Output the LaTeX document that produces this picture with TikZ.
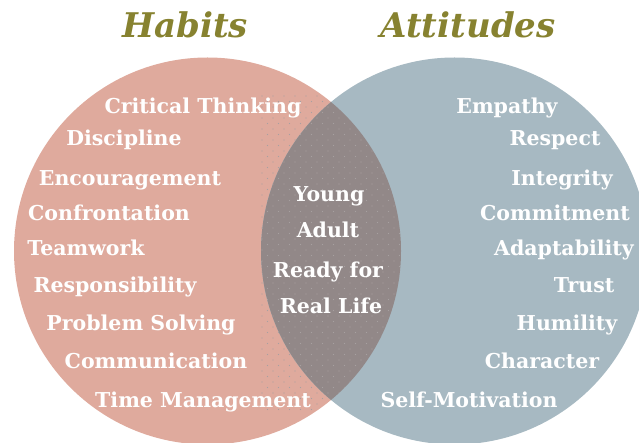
\documentclass[tikz,border=0pt]{standalone}
\usepackage{fontspec}
\setmainfont{DejaVu Serif}
\definecolor{habitpink}{HTML}{DFAA9D}
\definecolor{attitudeblue}{HTML}{A7B9C2}
\definecolor{overlapgray}{HTML}{928888}
\definecolor{dotgray}{HTML}{A8A0A0}
\definecolor{titleolive}{HTML}{878230}

\begin{document}
\begin{tikzpicture}[x=1pt, y=-1pt,
  word/.style={text=white, inner sep=0pt, anchor=base,
    font=\bfseries\fontsize{20.5}{21}\selectfont},
  heading/.style={text=titleolive, inner sep=0pt, anchor=base,
    font=\bfseries\itshape\fontsize{34}{34}\selectfont}]
\clip (0,0) rectangle (639,443);
\coordinate (HC) at (207.5,251);
\coordinate (AC) at (454.5,251);
% circles
\fill[habitpink] (HC) circle (193.5pt);
\fill[attitudeblue] (AC) circle (193.5pt);
\begin{scope}
\clip (HC) circle (193.5pt);
\fill[overlapgray] (AC) circle (193.5pt);
\foreach \i in {0,...,13}
  \foreach \j in {0,...,28} {
    \fill[dotgray] (262+\i*11, 96+\j*11) circle (0.7pt);
    \fill[dotgray] (267.5+\i*11, 101.5+\j*11) circle (0.7pt);
  }
\end{scope}
% titles
\node[heading] (habits) at (185,38) {Habits};
\node[heading] (attitudes) at (468,38) {Attitudes};
% habits
\node[word] (critical) at (203,114) {Critical Thinking};
\node[word] (discipline) at (124,146) {Discipline};
\node[word] (encouragement) at (130,186) {Encouragement};
\node[word] (confrontation) at (109,221) {Confrontation};
\node[word] (teamwork) at (86,256) {Teamwork};
\node[word] (responsibility) at (115,293) {Responsibility};
\node[word] (problem) at (141,330) {Problem Solving};
\node[word] (communication) at (156,368) {Communication};
\node[word] (time) at (203,407) {Time Management};
% overlap
\node[word] (young) at (329,202) {Young};
\node[word] (adult) at (328,238) {Adult};
\node[word] (ready) at (328,277) {Ready for};
\node[word] (real) at (331,313) {Real Life};
% attitudes
\node[word] (empathy) at (507,114) {Empathy};
\node[word] (respect) at (555,146) {Respect};
\node[word] (integrity) at (562,186) {Integrity};
\node[word] (commitment) at (555,221) {Commitment};
\node[word] (adaptability) at (564,256) {Adaptability};
\node[word] (trust) at (584,293) {Trust};
\node[word] (humility) at (567,330) {Humility};
\node[word] (character) at (542,368) {Character};
\node[word] (motivation) at (469,407) {Self-Motivation};
\end{tikzpicture}
\end{document}
